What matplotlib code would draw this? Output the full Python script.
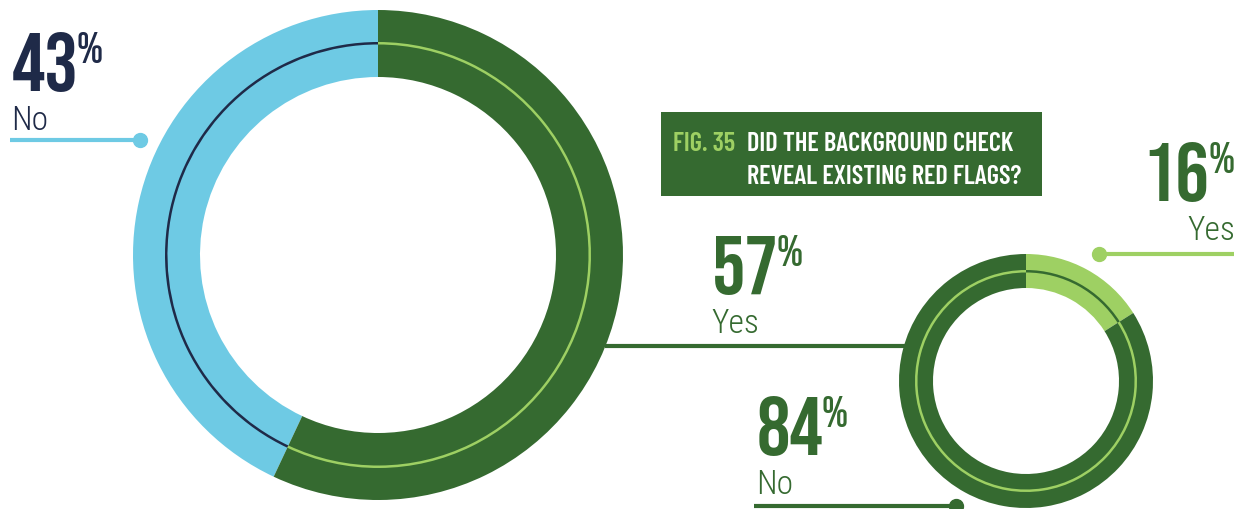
import matplotlib
matplotlib.use("Agg")
import matplotlib.pyplot as plt
from matplotlib.patches import Rectangle

# data
big_labels = ["No", "Yes"]
big_values = [43, 57]
small_labels = ["Yes", "No"]
small_values = [16, 84]
fig_no = "FIG. 35"
title_lines = ["DID THE BACKGROUND CHECK", "REVEAL EXISTING RED FLAGS?"]

BLUE = "#6ECAE4"
DKGREEN = "#356A30"
LTGREEN = "#9ED063"
NAVY = "#1F2A48"

HEAD = ["Bebas Neue", "DejaVu Sans"]
TITLE = ["Barlow Condensed", "DejaVu Sans"]
LABEL = ["Roboto Condensed", "DejaVu Sans"]

W, H = 1244, 509
fig = plt.figure(figsize=(W / 100, H / 100), dpi=100)
ax = fig.add_axes([0, 0, 1, 1])


def Y(y):
    # pixel row -> data y
    return H - y


# big donut
bc = (378, Y(255))
ax.pie(big_values, colors=[BLUE, DKGREEN], startangle=90, counterclock=True,
       center=bc, radius=245, wedgeprops=dict(width=67, linewidth=0))
ax.pie(big_values, colors=[NAVY, LTGREEN], startangle=90, counterclock=True,
       center=bc, radius=213, wedgeprops=dict(width=2.5, linewidth=0))

# small donut
sc = (1026, Y(381))
ax.pie(small_values, colors=[LTGREEN, DKGREEN], startangle=90, counterclock=False,
       center=sc, radius=127, wedgeprops=dict(width=34, linewidth=0))
ax.pie(small_values, colors=[DKGREEN, LTGREEN], startangle=90, counterclock=False,
       center=sc, radius=111, wedgeprops=dict(width=2.5, linewidth=0))

ax.set_xlim(0, W)
ax.set_ylim(0, H)
ax.set_aspect("equal")
ax.axis("off")

# leader lines
ax.plot([10, 140], [Y(140), Y(140)], color=BLUE, lw=3, solid_capstyle="butt")
ax.plot([140], [Y(140)], "o", color=BLUE, ms=10)
ax.plot([605, 905], [Y(346), Y(346)], color=DKGREEN, lw=3, solid_capstyle="butt")
ax.plot([754, 956], [Y(506), Y(506)], color=DKGREEN, lw=3, solid_capstyle="butt")
ax.plot([956], [Y(506)], "o", color=DKGREEN, ms=10)
ax.plot([1099, 1234], [Y(254), Y(254)], color=LTGREEN, lw=3, solid_capstyle="butt")
ax.plot([1099], [Y(254)], "o", color=LTGREEN, ms=10)


def draw_label(x, ybase, val, lab, color, right=False):
    # x is left edge of the number, or right edge of "%" when right=True
    if not right:
        num = ax.text(x, Y(ybase), f"{val}", fontsize=60, family=HEAD,
                      color=color, ha="left", va="baseline")
        fig.canvas.draw()
        bb = num.get_window_extent()
        ax.text(bb.x1 - 2, Y(ybase - 28), "%", fontsize=32, family=HEAD,
                color=color, ha="left", va="baseline")
        ax.text(x - 1, Y(ybase + 39), lab, fontsize=24, family=LABEL,
                fontweight=300, color=color, ha="left", va="baseline")
    else:
        pct = ax.text(x, Y(ybase - 28), "%", fontsize=32, family=HEAD,
                      color=color, ha="right", va="baseline")
        fig.canvas.draw()
        bb = pct.get_window_extent()
        ax.text(bb.x0, Y(ybase), f"{val}", fontsize=60, family=HEAD,
                color=color, ha="right", va="baseline")
        ax.text(x, Y(ybase + 39), lab, fontsize=24, family=LABEL,
                fontweight=300, color=color, ha="right", va="baseline")


draw_label(12, 91, big_values[0], big_labels[0], NAVY)
draw_label(712, 294, big_values[1], big_labels[1], DKGREEN)
draw_label(757, 455, small_values[1], small_labels[1], DKGREEN)
draw_label(1235, 201, small_values[0], small_labels[0], DKGREEN, right=True)

# title box
ax.add_patch(Rectangle((661, Y(196)), 381, 84, color=DKGREEN, lw=0))
ax.text(673, Y(151), fig_no, fontsize=19, family=TITLE, fontweight=600,
        color=LTGREEN, ha="left", va="baseline")
ax.text(747, Y(151), title_lines[0], fontsize=19, family=TITLE, fontweight=600,
        color="white", ha="left", va="baseline")
ax.text(747, Y(184), title_lines[1], fontsize=19, family=TITLE, fontweight=600,
        color="white", ha="left", va="baseline")

fig.savefig("out.png", dpi=100)
